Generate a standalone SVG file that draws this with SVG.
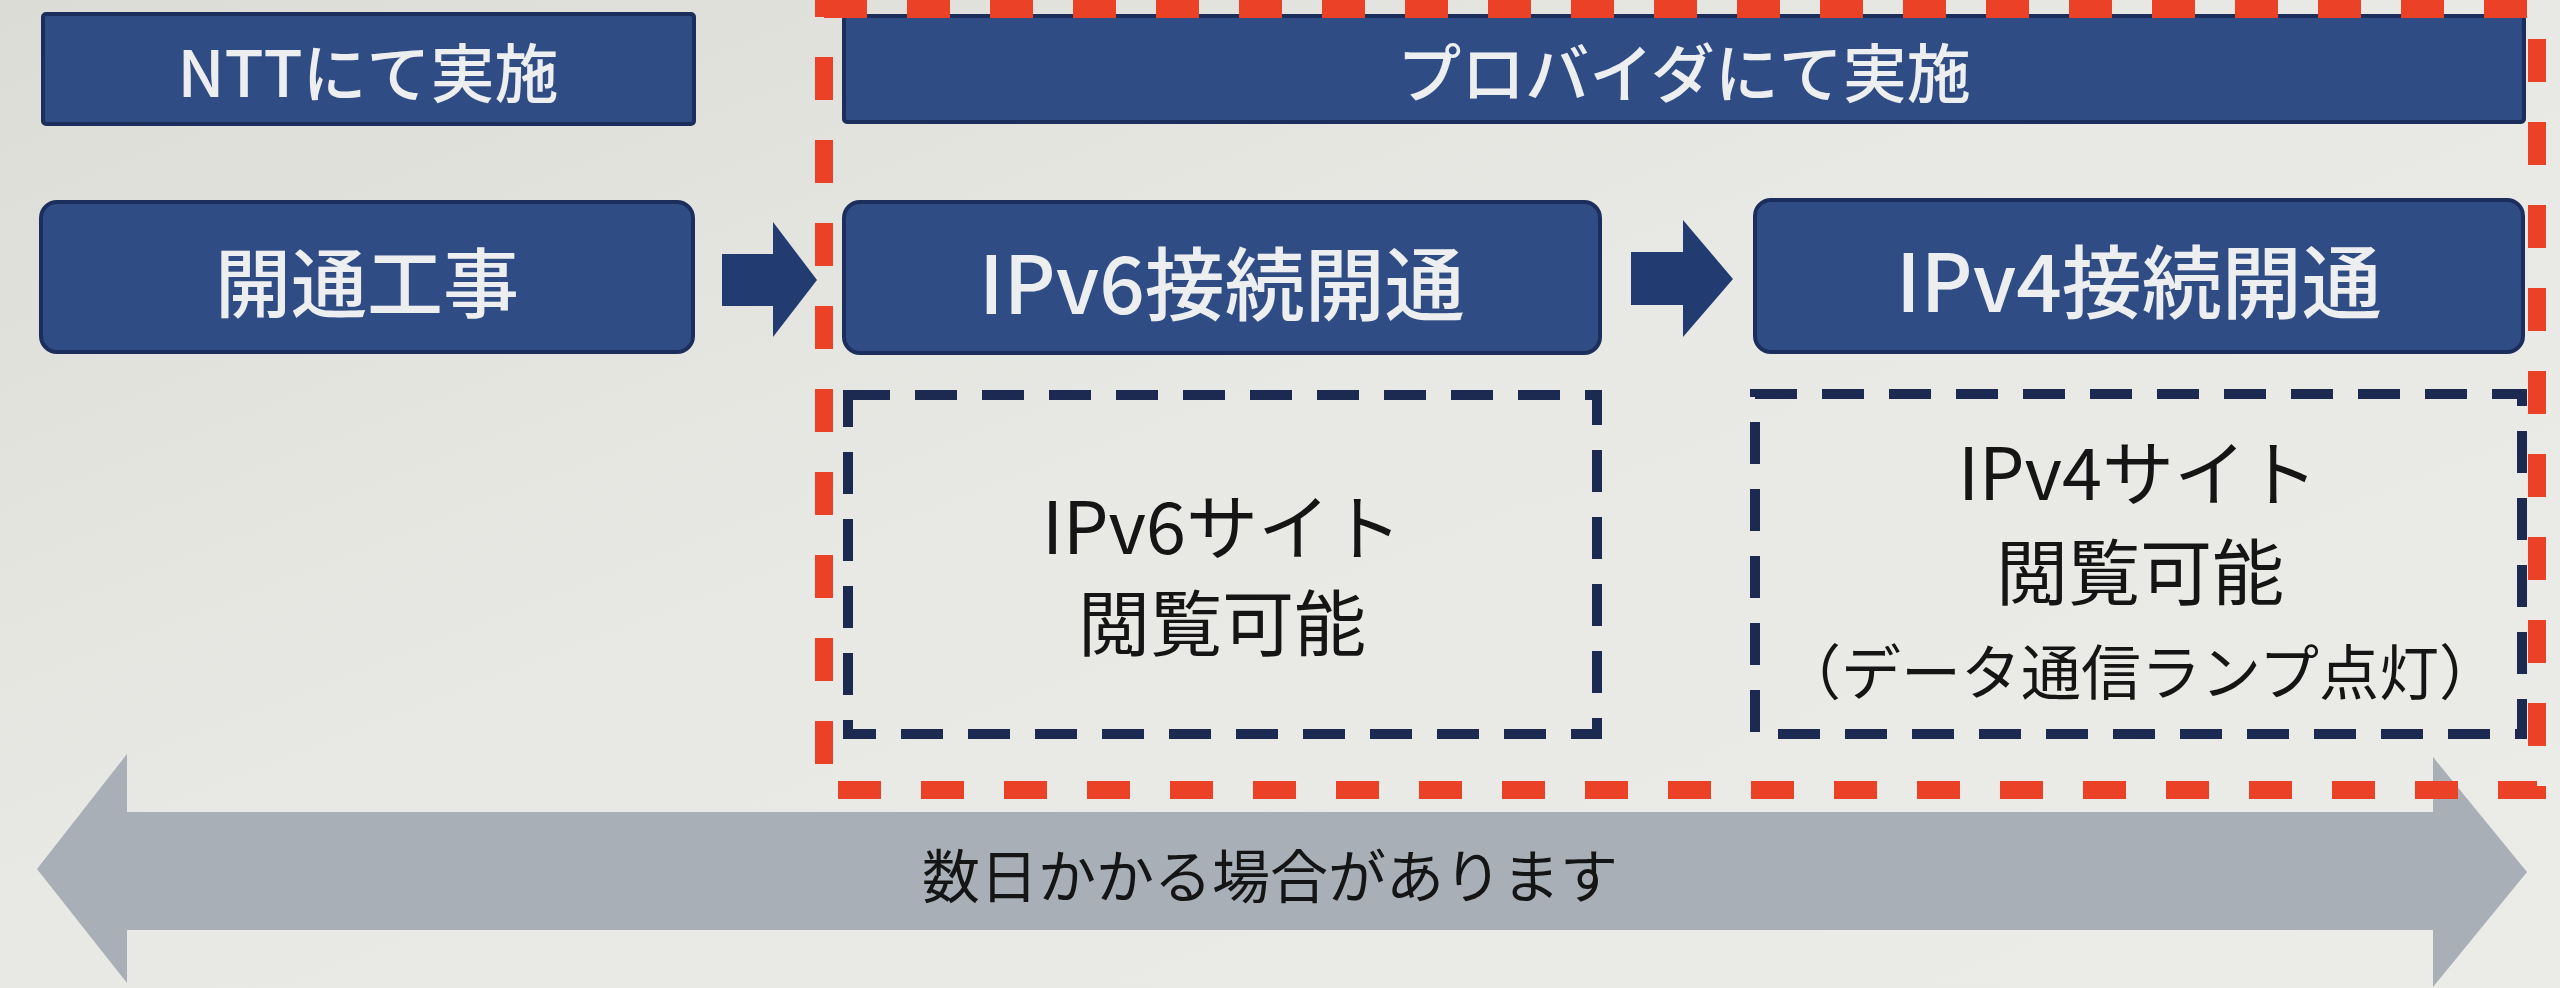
<svg xmlns="http://www.w3.org/2000/svg" width="2560" height="988" viewBox="0 0 2560 988">
  <defs>
    <linearGradient id="bg" x1="0" y1="0" x2="1" y2="1">
      <stop offset="0" stop-color="#dcdcd7"/>
      <stop offset="0.45" stop-color="#e8e8e4"/>
      <stop offset="1" stop-color="#ebebe7"/>
    </linearGradient>
    <style>
      .box { fill: #304c84; stroke: #1c2f5c; stroke-width: 4; }
      .hdr { fill: #304c84; stroke: #1c2f5c; stroke-width: 4; }
      .wt { fill: #eceeef; font-family: "Noto Sans CJK JP", "Noto Sans", sans-serif; font-weight: 500; text-anchor: middle; dominant-baseline: central; }
      .bk { fill: #151515; font-family: "Noto Sans CJK JP", "Noto Sans", sans-serif; text-anchor: middle; dominant-baseline: central; }
      .nav { fill: none; stroke: #1c2a52; stroke-width: 10; stroke-dasharray: 42 25; }
      .red { fill: none; stroke: #ea4127; stroke-width: 18; stroke-dasharray: 43 40; }
      .arr { fill: #223c72; }
      .gray { fill: #a8afb6; }
    </style>
  </defs>
  <rect x="0" y="0" width="2560" height="988" fill="url(#bg)"/>

  <g id="ntt-header">
    <rect class="hdr" x="43" y="14" width="651" height="110" rx="3"/>
    <text class="wt" x="368" y="69" font-size="64">NTTにて実施</text>
  </g>
  <g id="provider-header">
    <rect class="hdr" x="844" y="16" width="1680" height="106" rx="3"/>
    <text class="wt" x="1684" y="69" font-size="64">プロバイダにて実施</text>
  </g>

  <g id="kaitsu-kouji">
    <rect class="box" x="41" y="202" width="652" height="150" rx="16"/>
    <text class="wt" x="367" y="279" font-size="76">開通工事</text>
  </g>
  <g id="ipv6-kaitsu">
    <rect class="box" x="844" y="202" width="756" height="151" rx="16"/>
    <text class="wt" x="1222" y="279" font-size="80">IPv6接続開通</text>
  </g>
  <g id="ipv4-kaitsu">
    <rect class="box" x="1755" y="200" width="768" height="152" rx="16"/>
    <text class="wt" x="2139" y="277" font-size="80">IPv4接続開通</text>
  </g>

  <g id="ipv6-site">
    <rect class="nav" x="848" y="395" width="749" height="339"/>
    <text class="bk" x="1222" y="522" font-size="72">IPv6サイト</text>
    <text class="bk" x="1222" y="618" font-size="72">閲覧可能</text>
  </g>
  <g id="ipv4-site">
    <rect class="nav" x="1755" y="394" width="767" height="340"/>
    <text class="bk" x="2138" y="468" font-size="72">IPv4サイト</text>
    <text class="bk" x="2140" y="567" font-size="72">閲覧可能</text>
    <text class="bk" x="2140" y="668" font-size="60">（データ通信ランプ点灯）</text>
  </g>

  <g id="duration-arrow">
    <polygon class="gray" points="37,869 127,754 127,812 2433,812 2433,757 2527,872 2433,987 2433,930 127,930 127,983"/>
    <text class="bk" x="1270" y="873" font-size="58">数日かかる場合があります</text>
  </g>

  <g id="provider-frame">
    <rect class="red" x="824" y="9" width="1713" height="781"/>
  </g>

  <g id="connectors">
    <polygon class="arr" points="722,254 773,254 773,222 817,280 773,337 773,306 722,306"/>
    <polygon class="arr" points="1631,252 1683,252 1683,220 1733,279 1683,337 1683,305 1631,305"/>
  </g>
</svg>
